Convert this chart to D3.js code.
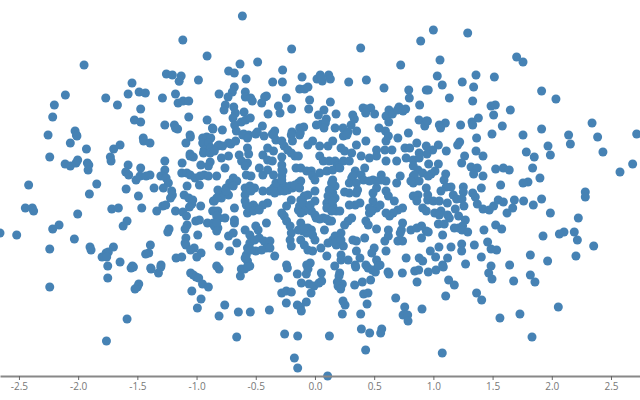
<!DOCTYPE html>
<html>
<head>
<meta charset="utf-8">
<script src="https://cdn.jsdelivr.net/npm/d3@7"></script>
<style>
  html, body { margin: 0; background: #fff; overflow: hidden; }
  svg { display: block; }
  .x-axis path { stroke: #888; stroke-width: 2; }
  .x-axis line { stroke: #666; }
  .x-axis text { fill: #777; font: 10px "Open Sans", sans-serif; }
  .point { fill: steelblue; }
</style>
</head>
<body>
<svg id="plot" width="640" height="400"><g class="points"></g><g class="x-axis"></g></svg>
<script>
const xTicks = [-2.5, -2.0, -1.5, -1.0, -0.5, 0, 0.5, 1.0, 1.5, 2.0, 2.5];

const pointsLeftTop = [[-1.116,1.56],[-0.911,1.40],[-1.95,1.31],[-1.255,1.22],[-1.204,1.21],[-1.13,1.20],[-1.147,1.147],[-0.984,1.16],[-1.545,1.13],[-1.578,1.02],[-1.485,1.04],[-1.432,1.03],[-1.178,1.02],[-1.288,0.98],[-1.767,0.98],[-1.668,0.91],[-1.156,0.93],[-1.114,0.95],[-1.066,0.95],[-2.108,1.01],[-2.201,0.91],[-2.215,0.79],[-1.472,0.87],[-1.525,0.76],[-1.472,0.74],[-1.066,0.79],[-0.911,0.76],[-1.268,0.71],[-1.187,0.71],[-1.178,0.68],[-1.16,0.67],[-0.866,0.68],[-2.026,0.65],[-1.055,0.61]];

const pointsLeftMid = [[-2.254,0.61],[-2.015,0.61],[-2.01,0.60],[-2.066,0.53],[-1.93,0.47],[-2.24,0.39],[-1.70,0.47],[-1.646,0.51],[-1.728,0.39],[-1.722,0.35],[-2.11,0.32],[-2.066,0.30],[-2.018,0.33],[-2.004,0.36],[-1.922,0.33],[-1.91,0.31],[-1.916,0.26],[-1.45,0.58],[-1.447,0.55],[-1.393,0.53],[-1.052,0.59],[-1.09,0.53],[-1.268,0.35],[-1.578,0.31],[-1.472,0.28],[-1.598,0.24],[-1.573,0.21],[-1.511,0.16],[-1.477,0.20],[-1.426,0.20],[-1.393,0.21],[-1.268,0.26],[-1.302,0.20],[-1.257,0.18],[-1.238,0.13],[-1.28,0.08],[-1.359,0.08],[-1.595,0.07],[-1.491,0.00],[-2.418,0.11],[-1.843,0.12],[-1.905,0.02],[-2.446,-0.12],[-2.387,-0.12],[-2.376,-0.15],[-2.004,-0.18],[-1.716,-0.13],[-1.66,-0.12],[-1.463,-0.12],[-1.587,-0.25],[-1.62,-0.30],[-2.161,-0.29],[-2.215,-0.33],[-2.519,-0.39],[-2.66,-0.37],[-2.032,-0.43],[-2.24,-0.53],[-1.90,-0.51],[-1.891,-0.54],[-1.702,-0.51],[-1.745,-0.56],[-1.764,-0.57],[-1.798,-0.61],[-1.759,-0.61],[-1.646,-0.66],[-1.75,-0.70],[-1.542,-0.70],[-1.39,-0.49],[-1.404,-0.57],[-1.43,-0.58],[-1.30,-0.69],[-1.387,-0.72],[-1.232,-0.33],[-1.243,-0.36],[-1.336,-0.15],[-1.285,-0.10],[-1.26,-0.09],[-1.21,0.05],[-1.204,0.01],[-1.22,-0.02],[-1.122,0.33],[-1.125,0.23],[-1.082,0.23],[-1.054,0.21],[-1.012,0.18],[-0.97,0.20],[-0.936,0.21],[-0.976,0.11],[-1.08,0.10],[-1.105,0.01],[-1.066,-0.02],[-1.032,-0.04],[-1.04,-0.08],[-1.06,-0.11],[-0.965,-0.10],[-1.178,-0.15],[-1.116,-0.16],[-1.085,-0.20],[-1.007,-0.25],[-0.976,-0.24],[-0.908,-0.27],[-1.08,-0.29],[-1.097,-0.33],[-0.99,-0.39],[-1.09,-0.42],[-1.097,-0.47],[-1.09,-0.49],[-1.02,-0.52],[-1.05,-0.54],[-0.962,-0.57],[-0.998,-0.61],[-1.125,-0.61],[-1.173,-0.62],[-1.055,0.42],[-1.055,0.40],[-1.027,0.39],[-0.964,0.31],[-0.885,0.34],[-0.90,0.30],[-0.90,0.20],[-0.948,0.58],[-0.914,0.59],[-0.88,0.58],[-0.948,0.53],[-0.9,0.53],[-0.936,0.46],[-0.88,0.48],[-0.942,0.43],[-0.885,0.43],[-0.858,-0.05],[-0.864,-0.15],[-0.858,-0.27]];

const pointsLeftLow = [[-2.24,-0.91],[-1.75,-0.82],[-1.553,-0.72],[-1.533,-0.71],[-1.384,-0.73],[-1.302,-0.71],[-1.322,-0.77],[-1.488,-0.88],[-1.50,-0.91],[-1.52,-0.93],[-1.587,-1.23],[-1.761,-1.45],[-1.05,-0.77],[-1.027,-0.79],[-1.004,-0.81],[-0.982,-0.82],[-0.95,-0.88],[-0.90,-0.91],[-1.04,-0.95],[-0.962,-1.03],[-0.993,-1.12]];

const pointsCentreTop = [[-0.613,1.80],[-0.197,1.47],[0.386,1.48],[0.893,1.55],[-0.633,1.32],[-0.484,1.34],[0.724,1.31],[-0.729,1.25],[-0.681,1.23],[-0.273,1.26],[-0.582,1.17],[-0.357,1.14],[-0.275,1.14],[-0.109,1.19],[0.017,1.17],[0.045,1.21],[0.062,1.15],[0.054,1.18],[0.116,1.21],[0.13,1.17],[0.285,1.14],[0.434,1.16],[0.583,1.08],[0.792,1.06],[0.94,1.06],[0.797,0.98],[-0.681,1.09],[-0.698,1.04],[-0.734,0.99],[-0.81,1.02],[-0.588,1.04],[-0.588,0.99],[-0.543,0.98],[-0.529,0.95],[-0.41,1.00],[-0.425,0.99],[-0.45,0.93],[-0.129,1.07],[-0.087,1.07],[-0.059,1.09],[-0.242,0.98],[-0.045,0.96],[0.13,0.94],[-0.309,0.90],[-0.396,0.82],[-0.295,0.83],[-0.197,0.87],[-0.053,0.87],[0.076,0.86],[0.029,0.81],[0.178,0.82],[-0.757,0.91],[-0.768,0.86],[-0.686,0.89],[-0.599,0.84],[-0.672,0.83],[-0.692,0.78],[-0.678,0.71],[-0.664,0.65],[-0.622,0.74],[-0.585,0.76],[-0.546,0.78],[-0.444,0.70],[-0.487,0.64],[-0.34,0.65],[-0.36,0.62],[-0.861,0.67],[-0.782,0.66],[-0.602,0.62],[-0.56,0.61],[-0.194,0.64],[-0.129,0.68],[-0.095,0.69],[-0.124,0.63],[0.096,0.77],[0.012,0.71],[0.054,0.72],[0.088,0.73],[0.076,0.68],[0.17,0.68],[0.237,0.68],[0.279,0.64],[0.305,0.71],[0.352,0.65],[0.319,0.81],[0.333,0.77],[0.406,0.88],[0.471,0.88],[0.434,0.87],[0.428,0.83],[0.504,0.82],[0.625,0.86],[0.60,0.80],[0.654,0.82],[0.623,0.74],[0.71,0.89],[0.696,0.86],[0.744,0.85],[0.766,0.87],[0.884,0.91],[0.879,0.76],[0.94,0.75],[0.927,0.70],[0.541,0.68],[0.595,0.65],[0.789,0.63]];

const pointsRightTop = [[1.0,1.66],[1.29,1.63],[1.056,1.36],[1.703,1.39],[1.757,1.34],[1.033,1.20],[1.075,1.11],[1.36,1.21],[1.515,1.19],[1.244,1.14],[1.34,1.09],[0.957,1.06],[1.135,0.98],[1.332,0.95],[1.914,1.05],[2.035,0.97],[1.487,0.90],[1.523,0.91],[1.65,0.86],[1.509,0.81],[1.38,0.78],[1.326,0.74],[1.332,0.71],[0.95,0.75],[1.101,0.73],[1.05,0.71],[1.061,0.68],[1.23,0.71],[1.582,0.70],[1.914,0.67],[2.34,0.73],[1.495,0.62],[1.757,0.61],[2.142,0.61],[2.717,0.62]];

const pointsRightMid = [[1.365,0.58],[2.387,0.59],[1.222,0.54],[1.205,0.51],[1.042,0.51],[0.994,0.46],[1.109,0.45],[0.946,0.42],[2.157,0.52],[1.968,0.50],[1.988,0.41],[2.432,0.44],[1.36,0.45],[1.264,0.40],[1.419,0.40],[1.785,0.44],[1.852,0.39],[1.239,0.33],[1.042,0.32],[0.96,0.32],[1.318,0.29],[1.371,0.28],[1.34,0.22],[1.419,0.20],[1.526,0.27],[1.591,0.28],[1.641,0.26],[1.838,0.28],[1.9,0.18],[1.799,0.14],[1.757,0.13],[2.683,0.32],[2.576,0.24],[1.014,0.25],[0.98,0.22],[0.957,0.20],[1.104,0.22],[1.09,0.16],[1.568,0.11],[1.405,0.08],[1.149,0.09],[1.109,0.09],[1.064,0.05],[1.253,0.09],[1.253,0.04],[1.332,0.03],[1.354,-0.01],[1.168,0.01],[1.196,-0.03],[1.242,-0.03],[2.283,0.04],[2.283,-0.01],[0.952,0.01],[0.952,-0.04],[1.0,-0.05],[1.05,-0.05],[1.118,-0.07],[1.258,-0.10],[1.371,-0.08],[1.419,-0.13],[1.472,-0.14],[1.509,-0.10],[1.548,-0.04],[1.591,-0.06],[1.684,-0.04],[1.67,-0.12],[1.622,-0.17],[1.762,-0.05],[1.844,-0.09],[1.914,-0.03],[1.988,-0.17],[1.185,-0.13],[1.011,-0.17],[1.064,-0.15],[1.05,-0.19],[1.12,-0.19],[1.135,-0.22],[1.213,-0.20],[1.27,-0.24],[1.042,-0.28],[1.092,-0.28],[1.177,-0.32],[1.213,-0.32],[1.247,-0.30],[1.242,-0.34],[1.29,-0.36],[0.957,-0.36],[1.078,-0.39],[1.427,-0.34],[1.526,-0.29],[1.577,-0.33],[2.224,-0.22],[2.19,-0.36],[2.103,-0.36],[2.064,-0.38],[1.926,-0.40],[2.216,-0.44],[2.354,-0.50],[1.239,-0.48],[1.239,-0.55],[1.346,-0.49],[1.458,-0.46],[1.487,-0.53],[1.534,-0.54],[0.974,-0.55],[1.047,-0.51],[1.149,-0.51],[1.019,-0.61],[1.12,-0.62],[1.405,-0.61],[1.819,-0.59],[2.204,-0.60],[1.965,-0.65],[1.272,-0.68],[1.487,-0.70],[1.644,-0.69],[1.078,-0.69]];

const pointsRightLow = [[0.957,-0.76],[1.022,-0.74],[1.084,-0.71],[1.467,-0.77],[1.495,-0.83],[1.678,-0.85],[1.819,-0.79],[1.858,-0.86],[1.129,-0.84],[1.177,-0.89],[1.104,-1.0],[1.365,-0.97],[1.408,-1.04],[2.055,-1.11],[1.731,-1.18],[1.562,-1.22],[1.833,-1.41],[1.075,-1.57]];

const pointsCentreLow = [[-0.81,-0.73],[-0.63,-0.80],[-0.622,-0.73],[-0.594,-0.73],[-0.571,-0.71],[-0.233,-0.72],[-0.149,-0.78],[-0.073,-0.78],[-0.059,-0.73],[0.054,-0.77],[0.167,-0.70],[0.209,-0.77],[0.203,-0.80],[0.344,-0.71],[0.448,-0.72],[0.485,-0.74],[0.51,-0.76],[0.533,-0.70],[0.617,-0.76],[0.625,-0.78],[0.738,-0.77],[0.842,-0.75],[0.876,-0.74],[-0.309,-0.82],[-0.115,-0.87],[-0.05,-0.88],[-0.008,-0.90],[0.034,-0.87],[0.057,-0.85],[0.189,-0.86],[0.231,-0.88],[0.195,-0.90],[0.217,-0.93],[0.335,-0.89],[0.40,-0.86],[0.47,-0.84],[0.862,-0.86],[-0.281,-0.97],[-0.242,-0.95],[-0.199,-0.96],[-0.033,-0.97],[0.411,-0.98],[0.448,-0.97],[0.682,-1.02],[0.237,-1.05],[0.254,-1.09],[0.44,-1.08],[-0.073,-1.06],[-0.242,-1.07],[-0.149,-1.09],[-0.123,-1.11],[-0.115,-1.15],[-0.762,-1.09],[-0.81,-1.20],[-0.647,-1.16],[-0.546,-1.16],[-0.385,-1.14],[0.231,-1.18],[0.386,-1.18],[0.758,-1.11],[0.744,-1.19],[0.783,-1.19],[0.786,-1.25],[0.904,-1.13],[0.392,-1.33],[0.462,-1.37],[0.564,-1.33],[0.555,-1.37],[-0.661,-1.41],[-0.256,-1.38],[-0.146,-1.40],[0.122,-1.40],[0.428,-1.54],[-0.174,-1.62],[-0.146,-1.72],[0.107,-1.80]];

const pointsCentre = [[-0.81,0.51],[-0.78,0.50],[-0.73,0.53],[-0.71,0.52],[-0.67,0.55],[-0.61,0.61],[-0.57,0.58],[-0.50,0.62],[-0.43,0.60],[-0.35,0.61],[-0.33,0.56],[-0.28,0.55],[-0.20,0.61],[-0.19,0.55],[-0.13,0.61],[-0.06,0.51],[-0.02,0.55],[0.04,0.50],[0.11,0.50],[0.15,0.55],[0.24,0.60],[0.27,0.61],[0.35,0.51],[0.43,0.55],[0.22,0.48],[0.25,0.45],[0.31,0.43],[0.52,0.46],[0.62,0.60],[0.60,0.55],[0.70,0.58],[0.59,0.46],[0.65,0.46],[0.76,0.48],[0.80,0.48],[0.86,0.53],[0.88,0.43],[0.94,0.50],[-0.57,0.48],[-0.56,0.42],[-0.64,0.41],[-0.44,0.41],[-0.40,0.48],[-0.35,0.45],[-0.26,0.50],[-0.23,0.46],[-0.20,0.43],[-0.17,0.40],[-0.14,0.40],[-0.28,0.39],[-0.40,0.36],[-0.36,0.35],[0.04,0.40],[0.07,0.35],[0.12,0.35],[0.17,0.35],[0.19,0.30],[0.24,0.35],[0.29,0.35],[0.39,0.40],[0.46,0.38],[0.52,0.40],[0.60,0.35],[0.69,0.35],[0.77,0.38],[0.83,0.36],[0.88,0.38],[-0.79,0.38],[-0.73,0.40],[-0.62,0.35],[-0.57,0.33],[-0.59,0.30],[-0.47,0.28],[-0.44,0.21],[-0.40,0.26],[-0.35,0.21],[-0.28,0.31],[-0.27,0.25],[-0.28,0.20],[-0.76,0.28],[-0.83,0.20],[-0.58,0.21],[-0.54,0.20],[-0.16,0.28],[-0.12,0.28],[-0.07,0.25],[-0.03,0.25],[0.04,0.23],[0.10,0.25],[0.15,0.26],[0.21,0.28],[0.34,0.25],[0.42,0.28],[0.39,0.21],[0.31,0.18],[0.41,0.16],[0.49,0.16],[0.56,0.21],[0.60,0.15],[0.56,0.16],[0.72,0.20],[0.69,0.13],[0.83,0.20],[0.87,0.26],[0.91,0.23],[0.83,0.13],[0.88,0.15],[0.94,0.08],[-0.69,0.18],[-0.66,0.15],[-0.72,0.13],[-0.75,0.08],[-0.78,0.03],[-0.81,0.00],[-0.85,-0.05],[-0.73,0.01],[-0.59,0.08],[-0.55,0.10],[-0.51,0.08],[-0.44,0.05],[-0.38,0.05],[-0.59,0.01],[-0.54,0.05],[-0.28,0.13],[-0.31,0.08],[-0.27,0.06],[-0.23,0.06],[-0.19,0.08],[-0.14,0.13],[-0.12,0.15],[-0.02,0.20],[0.00,0.16],[0.15,0.16],[0.17,0.10],[0.15,0.03],[0.17,-0.02],[0.12,-0.04],[0.10,-0.07],[0.12,-0.09],[0.15,-0.10],[0.18,-0.15],[0.21,-0.15],[0.29,0.03],[0.25,0.04],[0.35,0.03],[0.29,0.13],[0.52,0.08],[0.49,0.03],[0.60,0.05],[0.62,0.00],[0.67,-0.05],[0.83,0.00],[0.87,0.01],[0.86,-0.05],[0.91,-0.12],[0.94,-0.15],[0.74,-0.12],[0.70,-0.14],[0.66,-0.17],[0.63,-0.20],[0.00,0.05],[-0.06,0.01],[-0.09,0.00],[-0.12,-0.04],[-0.13,-0.10],[-0.14,-0.14],[-0.06,-0.12],[-0.03,-0.15],[0.00,-0.19],[0.01,-0.22],[0.07,-0.22],[0.12,-0.25],[0.14,-0.25],[0.00,-0.05],[-0.20,-0.04],[-0.24,-0.10],[-0.28,-0.17],[-0.26,-0.20],[-0.24,-0.25],[-0.21,-0.30],[-0.40,-0.07],[-0.44,-0.09],[-0.50,-0.12],[-0.52,-0.09],[-0.57,-0.17],[-0.59,-0.05],[-0.68,-0.12],[-0.82,-0.15],[-0.85,-0.15],[-0.81,-0.22],[-0.76,-0.22],[-0.68,-0.24],[-0.68,-0.27],[-0.50,-0.30],[-0.48,-0.34],[-0.41,-0.27],[-0.59,-0.34],[-0.55,-0.39],[-0.47,-0.42],[-0.43,-0.45],[-0.38,-0.45],[-0.41,-0.52],[-0.50,-0.55],[-0.57,-0.52],[-0.58,-0.59],[-0.57,-0.65],[-0.72,-0.55],[-0.81,-0.50],[-0.73,-0.40],[-0.66,-0.47],[-0.69,-0.37],[-0.82,-0.32],[-0.85,-0.30],[-0.20,-0.37],[-0.21,-0.44],[-0.20,-0.50],[-0.12,-0.27],[-0.10,-0.35],[-0.06,-0.32],[-0.03,-0.34],[0.08,-0.34],[-0.12,-0.44],[-0.09,-0.49],[-0.06,-0.54],[-0.02,-0.55],[0.00,-0.44],[0.05,-0.52],[0.11,-0.47],[0.15,-0.44],[0.19,-0.42],[0.22,-0.37],[0.24,-0.50],[0.18,-0.49],[0.17,-0.40],[0.28,-0.25],[0.31,-0.22],[0.25,-0.29],[0.38,-0.07],[0.34,-0.09],[0.29,-0.09],[0.46,-0.17],[0.52,-0.12],[0.49,-0.05],[0.55,-0.09],[0.60,-0.17],[0.43,-0.25],[0.45,-0.29],[0.52,-0.33],[0.62,-0.34],[0.74,-0.27],[0.73,-0.34],[0.72,-0.37],[0.81,-0.34],[0.86,-0.32],[0.90,-0.30],[0.94,-0.35],[0.90,-0.42],[0.70,-0.45],[0.74,-0.45],[0.59,-0.45],[0.62,-0.40],[0.60,-0.55],[0.42,-0.42],[0.32,-0.44],[0.35,-0.45],[0.50,-0.52],[0.48,-0.57],[0.35,-0.55],[0.38,-0.62],[0.22,-0.59],[0.22,-0.64],[0.28,-0.64],[0.10,-0.60],[-0.34,-0.60],[-0.04,-0.67],[-0.07,-0.69],[0.34,-0.69],[0.52,-0.64],[0.55,-0.69],[0.77,-0.62],[0.88,-0.62],[0.43,-0.69],[0.91,-0.65],[-0.83,-0.70],[-0.55,-0.70],[-0.24,-0.69]];

// thick clumps in the middle, read separately
const pointsClumps = [[-0.26,0.10],[-0.21,0.10],[-0.17,0.11],[-0.26,0.05],[-0.30,0.05],[-0.34,0.03],[-0.35,0.08],[-0.33,0.13],[-0.13,0.08],[-0.28,0.26],[-0.28,0.16],[0.14,0.13],[0.12,0.06],[0.11,0.00],[0.15,-0.05],[0.10,-0.12],[0.14,-0.15],[-0.58,-0.09],[-0.55,-0.12],[-0.52,-0.15],[-0.47,-0.14],[-0.10,-0.07],[-0.09,-0.15],[-0.04,-0.09],[-0.12,-0.17],[-0.14,-0.34],[-0.07,-0.37],[-0.02,-0.39],[-0.09,-0.32],[-0.55,-0.47],[-0.54,-0.54],[-0.45,-0.54],[-0.38,-0.52],[-0.51,-0.44],[-0.59,-0.62],[-0.82,0.06],[-0.79,-0.02],[-0.75,0.05],[-0.69,0.10],[-0.83,-0.02],[0.04,-0.23],[0.10,-0.23],[0.19,-0.45],[0.17,-0.47],[0.22,-0.44],[0.32,0.20],[0.35,0.13],[0.36,0.06],[0.46,0.15],[0.52,0.15],[0.46,-0.12],[0.48,-0.15],[0.83,0.30],[0.84,0.21],[0.81,0.15],[-0.83,-0.20],[-0.83,-0.27],[-0.83,-0.35],[-0.82,0.50],[-0.85,0.45]];

const points = [...pointsLeftTop, ...pointsLeftMid, ...pointsLeftLow, ...pointsCentreTop, ...pointsCentre, ...pointsClumps, ...pointsCentreLow, ...pointsRightTop, ...pointsRightMid, ...pointsRightLow];

const width = 640;
const plot = d3.select("#plot");
const scale = {
  x: d3.scaleLinear([-2.66, 2.745], [0, width]),
  y: d3.scaleLinear([-1.8, 1.96], [376, 0]),
};

plot
  .select(".x-axis")
  .attr("transform", `translate(0, ${scale.y(-1.8)})`)
  .call(d3.axisBottom(scale.x).tickValues(xTicks).tickSize(4).tickSizeOuter(0).tickFormat((d) => d.toFixed(1)));

plot
  .select(".points")
  .selectAll(".point")
  .data(points)
  .join("circle")
  .attr("class", "point")
  .attr("r", 4.5)
  .attr("cx", (d) => scale.x(d[0]))
  .attr("cy", (d) => scale.y(d[1]));
</script>
</body>
</html>
